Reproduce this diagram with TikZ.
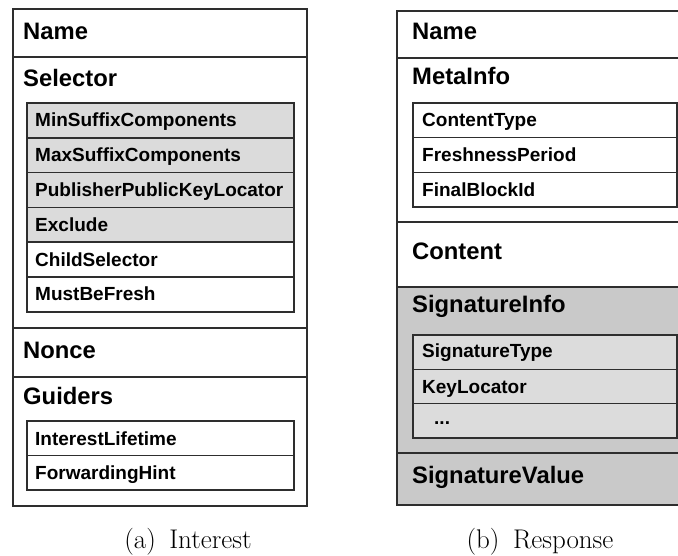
\documentclass[tikz,border=0pt]{standalone}
\usepackage{fontspec}
\setsansfont{Liberation Sans}

\begin{document}
\begin{tikzpicture}[
  x=1pt,
  y=-1pt,
  field/.style={draw=black!82, line width=1.6pt},
  head/.style={font=\sffamily\bfseries\fontsize{23.8}{26}\selectfont, anchor=base west, inner sep=0pt},
  item/.style={font=\sffamily\bfseries\fontsize{19}{20}\selectfont, anchor=base west, inner sep=0pt},
  caption/.style={font=\fontsize{27}{30}\selectfont, anchor=base, inner sep=0pt}
]

% Greys for optional and signature fields
\colorlet{optGray}{black!14}
\definecolor{sigGray}{HTML}{C9C9C9}
\definecolor{sigRow}{HTML}{DCDCDC}

\useasboundingbox (0,0) rectangle (678,556);
\clip (0,0) rectangle (678,556);

% (a) Interest packet
\draw[field] (13,9) rectangle (307,57);
\node[head] (iName) at (23,40) {Name};

\draw[field] (13,57) rectangle (307,328);
\node[head] (iSel) at (23,87) {Selector};
\foreach \y/\txt/\fc [count=\i] in {103/MinSuffixComponents/optGray, 137.8/MaxSuffixComponents/optGray,
    172.6/PublisherPublicKeyLocator/optGray, 207.4/Exclude/optGray, 242.2/ChildSelector/white, 277/MustBeFresh/white} {
  \draw[field, fill=\fc] (27,\y) rectangle (294,\y+34.8);
  \node[item] (iSel\i) at (35,\y+24) {\txt};
}

\draw[field] (13,328) rectangle (307,377);
\node[head] (iNonce) at (23,359) {Nonce};

\draw[field] (13,377) rectangle (307,506);
\node[head] (iGuid) at (23,404) {Guiders};
\foreach \y/\txt [count=\i] in {421/InterestLifetime, 455.5/ForwardingHint} {
  \draw[field, fill=white] (27,\y) rectangle (294,\y+34.5);
  \node[item] (iGuid\i) at (35,\y+24) {\txt};
}

\node[caption] (capA) at (188,548) {(a)\enspace Interest};

% (b) Response packet (right side runs off the page)
\draw[field] (397,11) rectangle (692,58);
\node[head] (rName) at (412,40) {Name};

\draw[field] (397,58) rectangle (692,222);
\node[head] (rMeta) at (412,85) {MetaInfo};
\foreach \y/\txt [count=\i] in {103/ContentType, 137.7/FreshnessPeriod, 172.4/FinalBlockId} {
  \draw[field, fill=white] (413,\y) rectangle (677,\y+34.7);
  \node[item] (rMeta\i) at (422,\y+24) {\txt};
}

\draw[field] (397,222) rectangle (692,287);
\node[head] (rCont) at (412,260) {Content};

\draw[field, fill=sigGray] (397,287) rectangle (692,453);
\node[head] (rSig) at (412,313) {SignatureInfo};
\foreach \y in {335, 369.3, 403.6} {
  \draw[field, fill=sigRow] (413,\y) rectangle (677,\y+34.3);
}
\node[item] (rSig1) at (422,358) {SignatureType};
\node[item] (rSig2) at (422,393) {KeyLocator};
\node[item] (rSig3) at (434,424) {...};

\draw[field, fill=sigGray] (397,453) rectangle (692,505);
\node[head] (rSigVal) at (412,483) {SignatureValue};

\node[caption] (capB) at (540,548) {(b)\enspace Response};

\end{tikzpicture}
\end{document}
